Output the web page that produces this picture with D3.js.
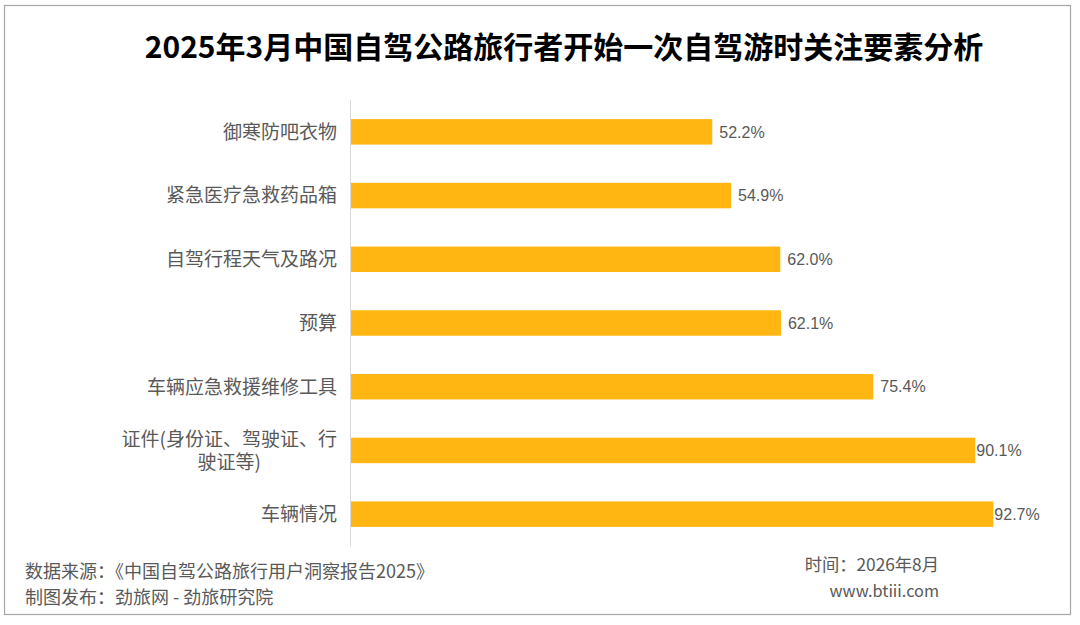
<!DOCTYPE html>
<html lang="zh">
<head>
  <meta charset="UTF-8" />
  <title>自驾游关注要素</title>
  <script src="https://d3js.org/d3.v7.min.js"></script>
  <style>
    body { margin: 0; background: #fff; }
    svg { display: block; font-family: "Noto Sans CJK SC", "Noto Sans", sans-serif; }
  </style>
</head>
<body>
  <div id="chart"></div>
  <script>
    const categories = ["御寒防吧衣物", "紧急医疗急救药品箱", "自驾行程天气及路况", "预算",
                        "车辆应急救援维修工具", "证件(身份证、驾驶证、行|驶证等)", "车辆情况"];
    const values = [52.2, 54.9, 62.0, 62.1, 75.4, 90.1, 92.7];

    const W = 1080, H = 625;
    const svg = d3.select("#chart").append("svg")
      .attr("width", W)
      .attr("height", H);

    // outer frame
    svg.append("rect")
      .attr("x", 4.5).attr("y", 5.5)
      .attr("width", 1066).attr("height", 609)
      .attr("fill", "#fff")
      .attr("stroke", "#a6a6a6")
      .attr("stroke-width", 1.2);

    svg.append("text")
      .attr("x", 564)
      .attr("y", 58)
      .attr("text-anchor", "middle")
      .style("font-size", "30px")
      .style("font-weight", "bold")
      .attr("fill", "#000")
      .text("2025年3月中国自驾公路旅行者开始一次自驾游时关注要素分析");

    const x = d3.scaleLinear().domain([0, 100]).range([350, 1044]);
    const y = d3.scaleBand().domain(categories).range([100, 546]).paddingInner(0.6).paddingOuter(0.3);

    // category axis line
    svg.append("line")
      .attr("x1", 350.5).attr("x2", 350.5)
      .attr("y1", 100).attr("y2", 546)
      .attr("stroke", "#d9d9d9");

    svg.selectAll("rect.bar")
      .data(values)
      .enter()
      .append("rect")
      .attr("class", "bar")
      .attr("x", x(0) + 1)
      .attr("y", (d, i) => y(categories[i]))
      .attr("width", d => x(d) - x(0) - 1)
      .attr("height", y.bandwidth())
      .attr("fill", "#ffb612");

    svg.selectAll("text.val")
      .data(values)
      .enter()
      .append("text")
      .attr("class", "val")
      .attr("x", d => x(d) + (d > 90 ? 1 : 7))
      .attr("y", (d, i) => y(categories[i]) + y.bandwidth() / 2)
      .attr("dy", "0.36em")
      .attr("fill", "#595959")
      .style("font-family", "'Liberation Sans Narrow', 'Liberation Sans', sans-serif")
      .style("font-size", "16px")
      .text(d => d.toFixed(1) + "%");

    // category labels: "|" marks a line break; wrapped lines are centred on the first line
    categories.forEach(c => {
      const lines = c.split("|");
      const cy = y(c) + y.bandwidth() / 2;
      const t = svg.append("text")
        .attr("fill", "#595959")
        .style("font-size", "19px");
      const first = t.append("tspan")
        .attr("x", 337)
        .attr("text-anchor", "end")
        .attr("y", cy - (lines.length - 1) / 2 * 22.5)
        .attr("dy", "0.36em")
        .text(lines[0]);
      const mid = 337 - first.node().getComputedTextLength() / 2;
      lines.slice(1).forEach((ln, k) => {
        t.append("tspan")
          .attr("x", mid)
          .attr("text-anchor", "middle")
          .attr("y", cy + (k + 1 - (lines.length - 1) / 2) * 22.5)
          .attr("dy", "0.36em")
          .text(ln);
      });
    });

    const foot = [
      { t: "数据来源：《中国自驾公路旅行用户洞察报告2025》", x: 25, y: 578, a: "start", s: 18 },
      { t: "制图发布：劲旅网 - 劲旅研究院", x: 25, y: 604, a: "start", s: 18 },
      { t: "时间：2026年8月", x: 939, y: 571, a: "end", s: 17.3 },
      { t: "www.btiii.com", x: 939, y: 597, a: "end", s: 16.3 }
    ];
    svg.selectAll("text.foot")
      .data(foot)
      .enter()
      .append("text")
      .attr("class", "foot")
      .attr("x", d => d.x)
      .attr("y", d => d.y)
      .attr("text-anchor", d => d.a)
      .attr("fill", "#595959")
      .style("font-size", d => d.s + "px")
      .text(d => d.t);
  </script>
</body>
</html>
